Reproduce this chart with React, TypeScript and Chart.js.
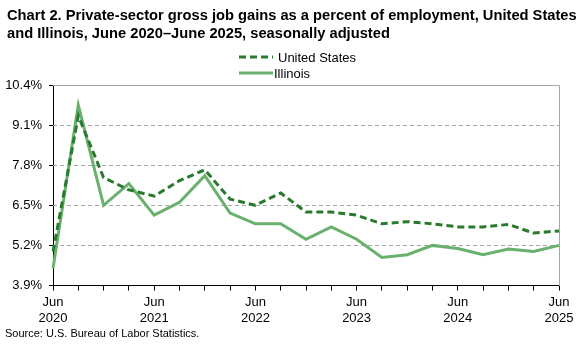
import React, { useEffect, useRef } from "react";
import { Chart, registerables } from "chart.js";

Chart.register(...registerables);

const categories: string[] = [
  "Jun 2020", "Sep 2020", "Dec 2020", "Mar 2021",
  "Jun 2021", "Sep 2021", "Dec 2021", "Mar 2022",
  "Jun 2022", "Sep 2022", "Dec 2022", "Mar 2023",
  "Jun 2023", "Sep 2023", "Dec 2023", "Mar 2024",
  "Jun 2024", "Sep 2024", "Dec 2024", "Mar 2025",
  "Jun 2025",
];
const unitedStates: number[] = [
  5.0, 9.4, 7.4, 7.0, 6.8, 7.3, 7.65, 6.7, 6.5, 6.9, 6.28,
  6.28, 6.18, 5.9, 5.97, 5.9, 5.8, 5.8, 5.88, 5.6, 5.67,
];
const illinois: number[] = [
  4.45, 9.75, 6.5, 7.2, 6.18, 6.6, 7.46, 6.25, 5.9, 5.9, 5.4,
  5.8, 5.4, 4.81, 4.9, 5.2, 5.1, 4.9, 5.08, 5.0, 5.2,
];
const yTicks: number[] = [3.9, 5.2, 6.5, 7.8, 9.1, 10.4];
const titleLines: string[] = [
  "Chart 2. Private-sector gross job gains as a percent of employment, United States",
  "and Illinois, June 2020\u2013June 2025, seasonally adjusted",
];
const sourceText = "Source: U.S. Bureau of Labor Statistics.";

const US_COLOR = "#2a7a2e";
const IL_COLOR = "#6ab06e";
const FONT = "Arial, 'Liberation Sans', sans-serif";

export default function App() {
  const ref = useRef<HTMLCanvasElement | null>(null);

  useEffect(() => {
    if (!ref.current) return;
    document.body.style.margin = "0";

    const decor = {
      id: "decor",
      beforeDatasetsDraw(chart: any) {
        const { ctx, chartArea, scales } = chart;
        const y = scales.y;
        ctx.save();
        ctx.strokeStyle = "#a6a6a6";
        ctx.lineWidth = 1;
        ctx.setLineDash([4, 3]);
        yTicks.forEach((v) => {
          if (v === yTicks[0] || v === yTicks[yTicks.length - 1]) return;
          const py = Math.round(y.getPixelForValue(v)) + 0.5;
          ctx.beginPath();
          ctx.moveTo(chartArea.left, py);
          ctx.lineTo(chartArea.right, py);
          ctx.stroke();
        });
        ctx.setLineDash([]);
        const top = Math.round(y.getPixelForValue(yTicks[yTicks.length - 1])) + 0.5;
        const right = Math.round(chartArea.right) + 0.5;
        const bottom = Math.round(y.getPixelForValue(yTicks[0]));
        ctx.beginPath();
        ctx.moveTo(chartArea.left, top);
        ctx.lineTo(right, top);
        ctx.lineTo(right, bottom);
        ctx.stroke();
        ctx.restore();
      },
      afterDraw(chart: any) {
        const { ctx } = chart;
        ctx.save();
        ctx.fillStyle = "#000";
        ctx.textBaseline = "alphabetic";
        ctx.textAlign = "left";
        ctx.font = `bold 14.7px ${FONT}`;
        ctx.fillText(titleLines[0], 7, 20, 571);
        ctx.fillText(titleLines[1], 7, 38);
        const items = [
          { label: "United States", color: US_COLOR, dash: [7, 4], y: 57 },
          { label: "Illinois", color: IL_COLOR, dash: [] as number[], y: 73 },
        ];
        ctx.font = `13px ${FONT}`;
        ctx.textBaseline = "middle";
        items.forEach((it) => {
          ctx.strokeStyle = it.color;
          ctx.lineWidth = 3;
          ctx.setLineDash(it.dash);
          ctx.beginPath();
          ctx.moveTo(239, it.y);
          ctx.lineTo(273, it.y);
          ctx.stroke();
          ctx.setLineDash([]);
          ctx.fillStyle = "#000";
          ctx.fillText(it.label, it.dash.length ? 278 : 274, it.y + 1);
        });
        ctx.font = `11px ${FONT}`;
        ctx.textBaseline = "alphabetic";
        ctx.fillText(sourceText, 5, 337);
        ctx.restore();
      },
    };

    const chart = new Chart(ref.current, {
      type: "line",
      data: {
        labels: categories,
        datasets: [
          {
            label: "United States",
            data: unitedStates,
            borderColor: US_COLOR,
            borderWidth: 3,
            borderDash: [7, 4],
            pointRadius: 0,
            tension: 0,
            fill: false,
          },
          {
            label: "Illinois",
            data: illinois,
            borderColor: IL_COLOR,
            borderWidth: 3,
            pointRadius: 0,
            tension: 0,
            fill: false,
          },
        ],
      },
      plugins: [decor],
      options: {
        animation: false,
        responsive: false,
        devicePixelRatio: 1,
        layout: { padding: { left: 0, right: 24, top: 85, bottom: 15 } },
        plugins: {
          legend: { display: false },
          title: { display: false },
          tooltip: { enabled: false },
        },
        scales: {
          x: {
            type: "category",
            offset: false,
            grid: {
              display: true,
              drawOnChartArea: false,
              drawTicks: true,
              tickLength: 5,
              color: "#000",
            },
            border: { display: true, color: "#000", width: 1 },
            ticks: {
              autoSkip: false,
              maxRotation: 0,
              minRotation: 0,
              color: "#000",
              font: { family: FONT, size: 13, lineHeight: 1.25 },
              padding: 4,
              callback: (_v: any, i: number) => {
                if (i % 4 !== 0) return "";
                const parts = categories[i].split(" ");
                return [parts[0], parts[1]];
              },
            },
          },
          y: {
            min: yTicks[0],
            max: yTicks[yTicks.length - 1],
            afterBuildTicks: (scale: any) => {
              scale.ticks = yTicks.map((v) => ({ value: v }));
            },
            afterFit: (scale: any) => {
              scale.width = 53;
            },
            grid: {
              display: true,
              drawOnChartArea: false,
              drawTicks: true,
              tickLength: 4,
              color: "#000",
            },
            border: { display: true, color: "#000", width: 1 },
            ticks: {
              color: "#000",
              font: { family: FONT, size: 13 },
              padding: 7,
              callback: (v: any) => Number(v).toFixed(1) + "%",
            },
          },
        },
      },
    });
    return () => chart.destroy();
  }, []);

  return (
    <div style={{ position: "absolute", left: 0, top: 0, width: 583, height: 346, background: "#fff" }}>
      <canvas ref={ref} width={583} height={346} style={{ width: 583, height: 346 }} />
    </div>
  );
}
